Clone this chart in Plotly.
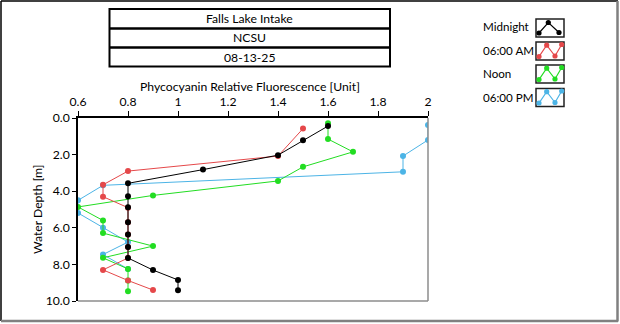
import plotly.graph_objects as go

# Phycocyanin profiles, Falls Lake Intake (NCSU), 08-13-25
midnight_val = [1.6, 1.5, 1.4, 1.1, 0.8, 0.8, 0.8, 0.8, 0.8, 0.8, 0.8, 0.9, 1.0, 1.0]
midnight_depth = [0.44, 1.22, 2.03, 2.82, 3.57, 4.27, 4.88, 5.7, 6.37, 7.05, 7.65, 8.31, 8.85, 9.41]

am_val = [1.5, 1.4, 0.8, 0.7, 0.7, 0.8, 0.8, 0.8, 0.8, 0.8, 0.7, 0.8, 0.9]
am_depth = [0.58, 2.08, 2.9, 3.65, 4.3, 4.9, 5.7, 6.37, 7.05, 7.65, 8.3, 8.88, 9.4]

noon_val = [1.6, 1.6, 1.7, 1.5, 1.4, 0.9, 0.6, 0.7, 0.7, 0.9, 0.7, 0.8, 0.8, 0.8]
noon_depth = [0.29, 1.15, 1.85, 2.67, 3.44, 4.23, 4.86, 5.6, 6.29, 7.0, 7.64, 8.25, 8.88, 9.47]

pm_val = [2.0, 2.0, 1.9, 1.9, 0.7, 0.6, 0.6, 0.7, 0.8, 0.7, 0.8]
pm_depth = [0.38, 1.2, 2.08, 2.94, 3.68, 4.5, 5.19, 6.0, 6.78, 7.46, 8.25]

title_rows = ["Falls Lake Intake", "NCSU", "08-13-25"]
series_names = ["Midnight", "06:00 AM", "Noon", "06:00 PM"]
series_colors = ["#000000", "#e5484a", "#22dd22", "#4cb4e6"]

W, H = 620, 324
L, R, T, B = 78, 428, 118, 301  # plot area in pixels

def px(x):
    return (x - L) / (R - L)

def py(y):
    return (B - y) / (B - T)

FONT = "Lato"
FS = 12.2
FS_LEG = 11.6

fig = go.Figure()

# draw order: 06:00 PM at the bottom, Midnight on top
for name, vals, depths, color in [
    ("06:00 PM", pm_val, pm_depth, series_colors[3]),
    ("Noon", noon_val, noon_depth, series_colors[2]),
    ("06:00 AM", am_val, am_depth, series_colors[1]),
    ("Midnight", midnight_val, midnight_depth, series_colors[0]),
]:
    fig.add_trace(go.Scatter(
        x=vals, y=depths, mode="lines+markers", name=name,
        line=dict(color=color, width=1),
        marker=dict(color=color, size=6),
        showlegend=False,
    ))

shapes = []
annotations = []

# outer frame (sunken look)
shapes.append(dict(type="line", xref="paper", yref="paper", x0=px(1), y0=py(1), x1=px(618), y1=py(1),
                   line=dict(color="#000000", width=1.5)))
shapes.append(dict(type="line", xref="paper", yref="paper", x0=px(1), y0=py(1), x1=px(1), y1=py(321),
                   line=dict(color="#000000", width=1.5)))
shapes.append(dict(type="line", xref="paper", yref="paper", x0=px(617.5), y0=py(1), x1=px(617.5), y1=py(321.5),
                   line=dict(color="#808080", width=2.5)))
shapes.append(dict(type="line", xref="paper", yref="paper", x0=px(1), y0=py(321), x1=px(618), y1=py(321),
                   line=dict(color="#808080", width=2.5)))

# plot area right / bottom edges in gray
shapes.append(dict(type="line", xref="paper", yref="paper", x0=1, y0=0, x1=1, y1=1,
                   line=dict(color="#8c8c8c", width=1.5)))
shapes.append(dict(type="line", xref="paper", yref="paper", x0=0, y0=0, x1=1, y1=0,
                   line=dict(color="#8c8c8c", width=1.5)))

# title table
tx0, tx1 = 109.5, 390
row_edges = [9, 28.5, 47.5, 66.5]
shapes.append(dict(type="rect", xref="paper", yref="paper", x0=px(tx0), x1=px(tx1),
                   y0=py(row_edges[0]), y1=py(row_edges[-1]), line=dict(color="#000000", width=2)))
for ye in row_edges[1:-1]:
    shapes.append(dict(type="line", xref="paper", yref="paper", x0=px(tx0), x1=px(tx1),
                       y0=py(ye), y1=py(ye), line=dict(color="#000000", width=2.5)))
for i, txt in enumerate(title_rows):
    yc = (row_edges[i] + row_edges[i + 1]) / 2
    annotations.append(dict(text=txt, xref="paper", yref="paper", x=px((tx0 + tx1) / 2), y=py(yc),
                            xanchor="center", yanchor="middle", showarrow=False,
                            font=dict(family=FONT, size=FS, color="#000000")))

# legend: labels with small sample boxes
label_y = [27, 50.5, 73.5, 97]
box_tops = [19, 42, 65, 88.5]
bx0, bw, bh = 536, 28, 18
for name, color, ly, bt in zip(series_names, series_colors, label_y, box_tops):
    annotations.append(dict(text=name, xref="paper", yref="paper", x=px(481), y=py(ly),
                            xanchor="left", yanchor="middle", showarrow=False,
                            font=dict(family=FONT, size=FS_LEG, color="#000000")))
    shapes.append(dict(type="rect", xref="paper", yref="paper", x0=px(bx0), x1=px(bx0 + bw),
                       y0=py(bt), y1=py(bt + bh), line=dict(color="#202020", width=1.5),
                       fillcolor="#ffffff"))
    if name == "Midnight":
        pts = [(3, 14), (12.3, 3.5), (23, 13.5)]
        mk = pts
    else:
        pts = [(1.5, 16), (3, 14.5), (10.7, 3.2), (19, 14), (25.7, 2.5), (26.5, 1.5)]
        mk = [(3, 14.5), (10.7, 3.2), (19, 14), (25.7, 2.5)]
    path = "M " + " L ".join(f"{px(bx0 + a):.5f},{py(bt + b):.5f}" for a, b in pts)
    shapes.append(dict(type="path", xref="paper", yref="paper", path=path,
                       line=dict(color=color, width=1.2)))
    for a, b in mk:
        r = 2.6
        shapes.append(dict(type="circle", xref="paper", yref="paper",
                           x0=px(bx0 + a - r), x1=px(bx0 + a + r),
                           y0=py(bt + b + r), y1=py(bt + b - r),
                           fillcolor=color, line=dict(color=color, width=0)))

# axis titles
annotations.append(dict(text="Phycocyanin Relative Fluorescence [Unit]", xref="paper", yref="paper",
                        x=px(250), y=py(86.5), xanchor="center", yanchor="middle", showarrow=False,
                        font=dict(family=FONT, size=FS, color="#000000")))
annotations.append(dict(text="Water Depth [m]", xref="paper", yref="paper",
                        x=px(37), y=py(210), xanchor="center", yanchor="middle", showarrow=False,
                        textangle=-90, font=dict(family=FONT, size=FS, color="#000000")))

fig.update_layout(
    width=W, height=H,
    margin=dict(l=L, r=W - R, t=T, b=H - B, pad=0),
    paper_bgcolor="#ffffff", plot_bgcolor="#ffffff",
    shapes=shapes, annotations=annotations,
    showlegend=False,
    xaxis=dict(range=[0.6, 2.0], side="top", dtick=0.2, tick0=0.6, showgrid=False, zeroline=False,
               ticks="outside", ticklen=5, tickcolor="#000000", showline=True, linecolor="#000000",
               linewidth=1.5, ticklabelstandoff=0,
               tickfont=dict(family=FONT, size=FS, color="#000000")),
    yaxis=dict(range=[10, 0], dtick=2, tick0=0, tickformat=".1f", showgrid=False, zeroline=False,
               ticks="outside", ticklen=4, tickcolor="#000000", showline=True, linecolor="#000000",
               linewidth=1.5, tickfont=dict(family=FONT, size=FS, color="#000000")),
)

fig.write_html("out.html")
